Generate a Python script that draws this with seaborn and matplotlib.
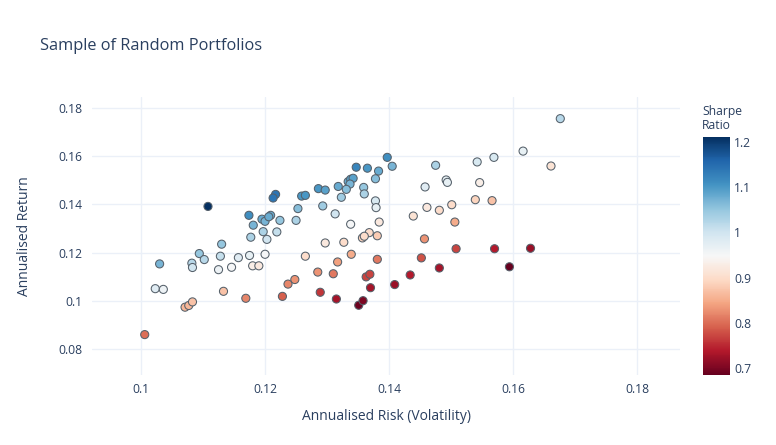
import matplotlib
matplotlib.use("Agg")
import matplotlib.pyplot as plt
import matplotlib.colors as mcolors
import matplotlib.cm as cm
import seaborn as sns
import pandas as pd

# annualised risk / return of each random portfolio
risk = [0.1397, 0.1347, 0.1365, 0.1383, 0.1378, 0.1334, 0.1338, 0.1342, 0.1337, 0.1331,
        0.1318, 0.1323, 0.1359, 0.1360, 0.1378, 0.1379, 0.1384, 0.1286, 0.1297, 0.1259,
        0.1265, 0.1217, 0.1213, 0.1253, 0.1293, 0.1313, 0.1338, 0.1368, 0.1357, 0.1360,
        0.1381, 0.1108, 0.1174, 0.1181, 0.1195, 0.1200, 0.1209, 0.1206, 0.1224, 0.1250,
        0.1177, 0.1197, 0.1203, 0.1219, 0.1297, 0.1327, 0.1339, 0.1317, 0.1381, 0.1265,
        0.1130, 0.1094, 0.1102, 0.1128, 0.1157, 0.1175, 0.1200, 0.1030, 0.1082, 0.1083,
        0.1125, 0.1146, 0.1180, 0.1190, 0.1285, 0.1310, 0.1363, 0.1369, 0.1370, 0.1248,
        0.1237, 0.1023, 0.1036, 0.1133, 0.1289, 0.1315, 0.1228, 0.1169, 0.1071, 0.1077,
        0.1083, 0.1351, 0.1358, 0.1006, 0.1676, 0.1616, 0.1569, 0.1542, 0.1661, 0.1405,
        0.1475, 0.1492, 0.1494, 0.1546, 0.1458, 0.1539, 0.1566, 0.1501, 0.1461, 0.1481,
        0.1439, 0.1506, 0.1457, 0.1508, 0.1570, 0.1628, 0.1452, 0.1481, 0.1434, 0.1594,
        0.1409]
ret = [0.1596, 0.1555, 0.1551, 0.1539, 0.1507, 0.1495, 0.1505, 0.1509, 0.1485, 0.1463,
       0.1475, 0.1430, 0.1471, 0.1444, 0.1415, 0.1387, 0.1327, 0.1466, 0.1460, 0.1435,
       0.1438, 0.1442, 0.1427, 0.1383, 0.1394, 0.1361, 0.1318, 0.1283, 0.1261, 0.1268,
       0.1270, 0.1392, 0.1355, 0.1314, 0.1339, 0.1330, 0.1355, 0.1349, 0.1334, 0.1334,
       0.1264, 0.1287, 0.1255, 0.1286, 0.1240, 0.1243, 0.1193, 0.1161, 0.1172, 0.1185,
       0.1235, 0.1196, 0.1171, 0.1185, 0.1179, 0.1188, 0.1193, 0.1153, 0.1156, 0.1138,
       0.1129, 0.1139, 0.1145, 0.1145, 0.1119, 0.1112, 0.1099, 0.1110, 0.1054, 0.1088,
       0.1069, 0.1050, 0.1047, 0.1039, 0.1035, 0.1007, 0.1018, 0.1010, 0.0973, 0.0980,
       0.0995, 0.0981, 0.1000, 0.0859, 0.1757, 0.1622, 0.1596, 0.1577, 0.1560, 0.1559,
       0.1563, 0.1502, 0.1492, 0.1491, 0.1473, 0.1420, 0.1416, 0.1399, 0.1388, 0.1376,
       0.1352, 0.1327, 0.1257, 0.1216, 0.1216, 0.1218, 0.1178, 0.1136, 0.1107, 0.1141,
       0.1067]
sharpe = [1.11, 1.12, 1.10, 1.08, 1.06, 1.08, 1.09, 1.09, 1.07, 1.06,
          1.08, 1.04, 1.05, 1.03, 0.99, 0.97, 0.92, 1.10, 1.09, 1.10,
          1.10, 1.14, 1.14, 1.06, 1.04, 1.00, 0.95, 0.90, 0.89, 0.90,
          0.88, 1.21, 1.11, 1.07, 1.08, 1.07, 1.08, 1.08, 1.05, 1.03,
          1.03, 1.03, 1.00, 1.01, 0.92, 0.90, 0.85, 0.84, 0.81, 0.90,
          1.05, 1.05, 1.02, 1.01, 0.98, 0.97, 0.95, 1.07, 1.02, 1.00,
          0.96, 0.95, 0.93, 0.92, 0.83, 0.81, 0.77, 0.77, 0.73, 0.83,
          0.82, 0.98, 0.96, 0.87, 0.76, 0.73, 0.79, 0.82, 0.86, 0.86,
          0.87, 0.69, 0.70, 0.80, 1.02, 0.97, 0.99, 0.99, 0.91, 1.07,
          1.03, 0.97, 0.97, 0.93, 0.98, 0.89, 0.87, 0.90, 0.92, 0.90,
          0.91, 0.85, 0.83, 0.77, 0.74, 0.72, 0.78, 0.73, 0.74, 0.685,
          0.72]

cbar_ticks = [0.7, 0.8, 0.9, 1.0, 1.1, 1.2]
cbar_labels = ["0.7", "0.8", "0.9", "1", "1.1", "1.2"]
x_ticks = [0.10, 0.12, 0.14, 0.16, 0.18]
y_ticks = [0.08, 0.10, 0.12, 0.14, 0.16, 0.18]

TXT = "#2a3f5f"
GRID = "#EBF0F8"
W, H = 776, 445

sns.set_theme(style="white")
plt.rcParams['font.family'] = ['Open Sans', 'DejaVu Sans']

df = pd.DataFrame({"risk": risk, "ret": ret, "sharpe": sharpe})
norm = mcolors.Normalize(vmin=min(sharpe), vmax=max(sharpe))

fig = plt.figure(figsize=(W / 100, H / 100), dpi=100)
ax = fig.add_axes([92 / W, 1 - 375 / H, (680 - 92) / W, (375 - 97) / H])

sns.scatterplot(data=df, x="risk", y="ret", hue="sharpe", palette="RdBu",
                hue_norm=norm, edgecolor="#55606a", linewidth=0.75, s=34,
                legend=False, ax=ax, zorder=3)

ax.set_xlim(0.0921, 0.1869)
ax.set_ylim(0.0691, 0.1847)
ax.set_xticks(x_ticks)
ax.set_yticks(y_ticks)
ax.set_xticklabels([f"{v:g}" for v in x_ticks])
ax.set_yticklabels([f"{v:g}" for v in y_ticks])
ax.grid(True, color=GRID, linewidth=1, zorder=0)
ax.set_axisbelow(True)
for sp in ax.spines.values():
    sp.set_visible(False)
ax.tick_params(length=0, labelsize=8.7, colors=TXT)
ax.tick_params(axis="y", pad=7)
ax.tick_params(axis="x", pad=6)
ax.set_xlabel("Annualised Risk (Volatility)", fontsize=10, color=TXT, labelpad=9)
ax.set_ylabel("Annualised Return", fontsize=10, color=TXT, labelpad=19)

# colour bar
cax = fig.add_axes([703 / W, 1 - 375 / H, 27 / W, (375 - 137) / H])
sm = cm.ScalarMappable(norm=norm, cmap="RdBu")
cb = fig.colorbar(sm, cax=cax)
cb.outline.set_visible(False)
cb.set_ticks(cbar_ticks)
cb.set_ticklabels(cbar_labels)
cax.tick_params(length=0, labelsize=8.7, colors=TXT, pad=3)
fig.text(702 / W, 1 - 105 / H, "Sharpe\nRatio", fontsize=8.7, color=TXT,
         ha="left", va="top", linespacing=1.1)

fig.text(40 / W, 1 - 46 / H, "Sample of Random Portfolios", fontsize=11.8,
         color=TXT, ha="left", va="center")

fig.savefig("out.png", dpi=100)
